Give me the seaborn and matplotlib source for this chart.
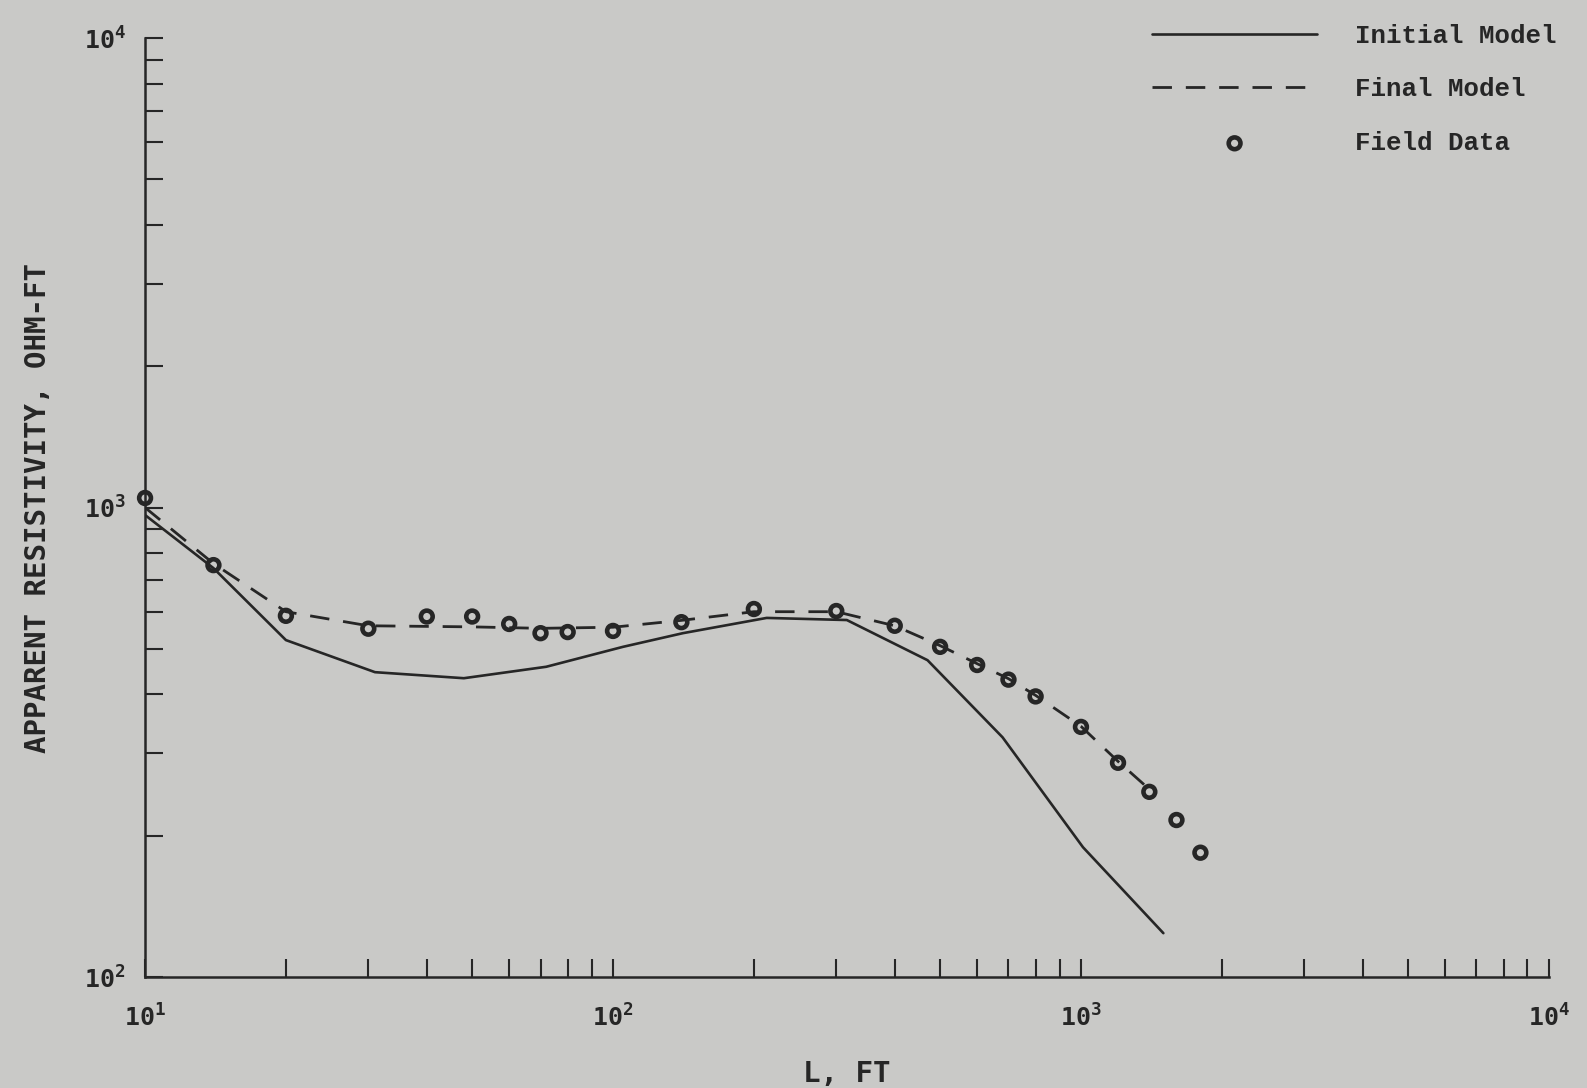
# Apparent resistivity vs electrode spacing: initial model, final model, field data
import seaborn as sns
import matplotlib.pyplot as plt
import matplotlib.ticker as mticker
import pandas as pd

# -----------------------------
# Data
# -----------------------------
init_L = [10, 14, 20, 31, 48, 72, 105, 141, 213, 316, 470, 680, 1010, 1500]
init_rho = [964, 743, 522, 446, 433, 458, 505, 540, 582, 576, 473, 324, 189, 124]

final_L = [10, 14, 20, 30, 50, 70, 100, 140, 200, 300, 400, 500, 600, 700, 800, 1000, 1200, 1420]
final_rho = [1000, 760, 600, 560, 557, 553, 556, 575, 600, 600, 560, 508, 465, 432, 398, 342, 288, 248]

field_L = [10, 14, 20, 30, 40, 50, 60, 70, 80, 100, 140, 200, 300, 400, 500,
           600, 700, 800, 1000, 1200, 1400, 1600, 1800]
field_rho = [1048, 754, 588, 552, 586, 586, 565, 540, 543, 546, 570, 608, 602, 560, 505,
             462, 430, 396, 341, 286, 248, 216, 184]

df_init = pd.DataFrame({"L": init_L, "rho": init_rho})
df_final = pd.DataFrame({"L": final_L, "rho": final_rho})
df_field = pd.DataFrame({"L": field_L, "rho": field_rho})

# -----------------------------
# Style
# -----------------------------
bg = "#c9c9c7"
ink = "#262626"

sns.set_style("ticks")
plt.rcParams["font.family"] = ["DejaVu Sans Mono"]
plt.rcParams["font.weight"] = "bold"
plt.rcParams["mathtext.default"] = "regular"

fig = plt.figure(figsize=(15.87, 10.88), dpi=100, facecolor=bg)
ax = fig.add_axes([0.0914, 0.102, 0.976 - 0.0914, 0.965 - 0.102])
ax.set_facecolor(bg)

sns.lineplot(data=df_init, x="L", y="rho", ax=ax, color=ink, linewidth=1.9,
             sort=False, estimator=None, label="Initial Model")
sns.lineplot(data=df_final, x="L", y="rho", ax=ax, color=ink, linewidth=2.0,
             sort=False, estimator=None, dashes=False, label="Final Model")
ax.lines[-1].set_dashes((7, 5))
sns.scatterplot(data=df_field, x="L", y="rho", ax=ax, marker="o", s=72,
                facecolor="none", edgecolor=ink, linewidth=3.3,
                clip_on=False, zorder=5, label="Field Data")

ax.set_xscale("log")
ax.set_yscale("log")
ax.set_xlim(10, 1e4)
ax.set_ylim(100, 1e4)

ax.xaxis.set_major_locator(mticker.LogLocator(base=10))
ax.yaxis.set_major_locator(mticker.LogLocator(base=10))
ax.xaxis.set_minor_locator(mticker.LogLocator(base=10, subs=range(2, 10)))
ax.yaxis.set_minor_locator(mticker.LogLocator(base=10, subs=range(2, 10)))
ax.xaxis.set_minor_formatter(mticker.NullFormatter())
ax.yaxis.set_minor_formatter(mticker.NullFormatter())

ax.tick_params(which="both", direction="in", length=13, width=1.5, color=ink,
               labelcolor=ink, labelsize=18)
ax.tick_params(axis="x", which="major", pad=20)
ax.tick_params(axis="y", which="major", pad=14)

sns.despine(ax=ax)
for side in ["left", "bottom"]:
    ax.spines[side].set_linewidth(1.8)
    ax.spines[side].set_color(ink)

ax.set_xlabel("L, FT", fontsize=21, color=ink, fontweight="bold", labelpad=20)
ax.set_ylabel("APPARENT RESISTIVITY, OHM-FT", fontsize=21, color=ink,
              fontweight="bold", labelpad=23)

leg = ax.legend(loc="upper right", bbox_to_anchor=(0.981, 0.978),
                bbox_transform=fig.transFigure, frameon=False,
                prop={"family": "Liberation Mono", "size": 18.5, "weight": "bold"},
                handlelength=6.4, handletextpad=1.5, labelspacing=1.15,
                borderpad=0, borderaxespad=0)
for t in leg.get_texts():
    t.set_color(ink)

plt.savefig("out.png", dpi=100, facecolor=bg)
plt.close()
